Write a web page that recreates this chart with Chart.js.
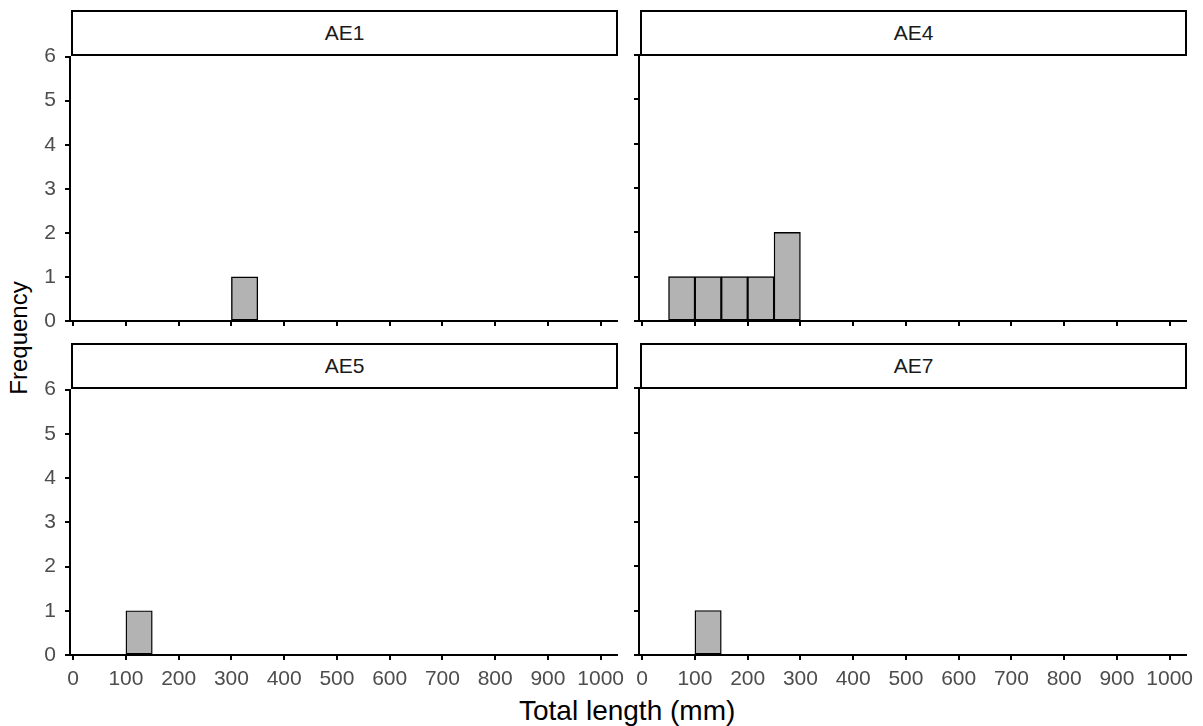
<!DOCTYPE html>
<html>
<head>
<meta charset="utf-8">
<script src="https://cdn.jsdelivr.net/npm/chart.js@4.4.1/dist/chart.umd.min.js"></script>
<style>
  body { margin: 0; background: #fff; width: 1203px; height: 726px; position: relative; overflow: hidden; font-family: "Liberation Sans", Arial, sans-serif; }
  canvas { position: absolute; }
  .strip { position: absolute; box-sizing: border-box; border: 2px solid #000; background: #fff; color: #1a1a1a; font-size: 21px; display: flex; align-items: center; justify-content: center; }
  .title { position: absolute; color: #000; white-space: nowrap; }
</style>
</head>
<body>
<div class="title" id="ylab" style="font-size:24px;">Frequency</div>
<div class="title" id="xlab" style="font-size:28px;">Total length (mm)</div>
<script>
// Data
const panelNames = ["AE1", "AE4", "AE5", "AE7"];
const binStarts = [0, 50, 100, 150, 200, 250, 300, 350, 400, 450, 500, 550, 600, 650, 700, 750, 800, 850, 900, 950];
const binWidth = 50;
const countsAE1 = [0, 0, 0, 0, 0, 0, 1, 0, 0, 0, 0, 0, 0, 0, 0, 0, 0, 0, 0, 0];
const countsAE4 = [0, 1, 1, 1, 1, 2, 0, 0, 0, 0, 0, 0, 0, 0, 0, 0, 0, 0, 0, 0];
const countsAE5 = [0, 0, 1, 0, 0, 0, 0, 0, 0, 0, 0, 0, 0, 0, 0, 0, 0, 0, 0, 0];
const countsAE7 = [0, 0, 1, 0, 0, 0, 0, 0, 0, 0, 0, 0, 0, 0, 0, 0, 0, 0, 0, 0];
const xTicks = [0, 100, 200, 300, 400, 500, 600, 700, 800, 900, 1000];
const yTicks = [0, 1, 2, 3, 4, 5, 6];
const xMin = -6, xMax = 1031, yMin = 0, yMax = 6;

const allCounts = [countsAE1, countsAE4, countsAE5, countsAE7];

// Layout of each facet (chart area in page pixels)
const layout = [
  { L: 70, T: 55, R: 617, B: 321, xLabels: false, yLabels: true },
  { L: 639, T: 55, R: 1186, B: 321, xLabels: false, yLabels: false },
  { L: 70, T: 388, R: 617, B: 655, xLabels: true, yLabels: true },
  { L: 639, T: 388, R: 1186, B: 655, xLabels: true, yLabels: false },
];

const PADL = 60, PADT = 20, PADR = 20, PADB = 45;
const tickFont = { family: "'Liberation Sans', Arial, sans-serif", size: 21 };

panelNames.forEach((name, i) => {
  const p = layout[i];
  const canvas = document.createElement("canvas");
  canvas.width = p.R - p.L + PADL + PADR;
  canvas.height = p.B - p.T + PADT + PADB;
  canvas.style.left = (p.L - PADL) + "px";
  canvas.style.top = (p.T - PADT) + "px";
  document.body.appendChild(canvas);

  const strip = document.createElement("div");
  strip.className = "strip";
  strip.textContent = name;
  strip.style.left = (p.L + 1) + "px";
  strip.style.top = (p.T - 45) + "px";
  strip.style.width = (p.R - p.L) + "px";
  strip.style.height = "46px";
  document.body.appendChild(strip);

  const points = binStarts.map((s, k) => ({ x: s + binWidth / 2, y: allCounts[i][k] || null }));

  new Chart(canvas.getContext("2d"), {
    type: "bar",
    data: {
      datasets: [{
        data: points,
        backgroundColor: "#b3b3b3",
        borderColor: "#000",
        borderWidth: 1.4,
        borderSkipped: false,
        barPercentage: 1,
        categoryPercentage: 1,
      }],
    },
    options: {
      responsive: false,
      animation: false,
      devicePixelRatio: 1,
      layout: { padding: { left: 0, top: PADT, right: PADR, bottom: 0 } },
      plugins: { legend: { display: false }, tooltip: { enabled: false } },
      scales: {
        x: {
          type: "linear",
          min: xMin,
          max: xMax,
          offset: false,
          afterBuildTicks: (s) => { s.ticks = xTicks.map(v => ({ value: v })); },
          afterFit: (s) => { s.height = PADB; },
          ticks: { display: p.xLabels, color: "#4d4d4d", font: tickFont, padding: 7, maxRotation: 0, autoSkip: false, callback: (v) => String(v) },
          grid: { drawOnChartArea: false, drawTicks: true, tickLength: 5, color: "#000", lineWidth: 2, offset: false },
          border: { display: true, color: "#000", width: 2 },
        },
        y: {
          type: "linear",
          min: yMin,
          max: yMax,
          afterBuildTicks: (s) => { s.ticks = yTicks.map(v => ({ value: v })); },
          afterFit: (s) => { s.width = PADL; },
          ticks: { display: p.yLabels, color: "#4d4d4d", font: tickFont, padding: 9, callback: (v) => String(v) },
          grid: { drawOnChartArea: false, drawTicks: true, tickLength: 5, color: "#000", lineWidth: 2 },
          border: { display: true, color: "#000", width: 2 },
        },
      },
    },
  });
});

// Axis titles
const ylab = document.getElementById("ylab");
ylab.style.left = (18 - ylab.offsetWidth / 2) + "px";
ylab.style.top = (338 - ylab.offsetHeight / 2) + "px";
ylab.style.transform = "rotate(-90deg)";
const xlab = document.getElementById("xlab");
xlab.style.left = (627 - xlab.offsetWidth / 2) + "px";
xlab.style.top = (711 - xlab.offsetHeight / 2) + "px";
</script>
</body>
</html>
